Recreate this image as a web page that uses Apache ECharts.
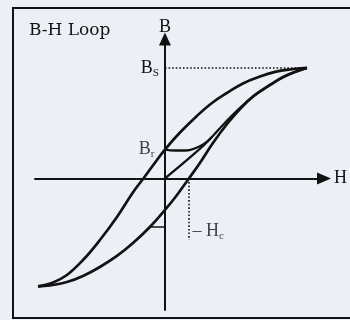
<!DOCTYPE html>
<html>
<head>
<meta charset="utf-8">
<script src="https://cdn.jsdelivr.net/npm/echarts@6/dist/echarts.min.js"></script>
<style>
  html, body { margin: 0; padding: 0; background: #eceff6; }
  #chart { width: 350px; height: 320px; }
</style>
</head>
<body>
<div id="chart"></div>
<script>
// Normalised units: H relative to H_max, B relative to B_s.
const Bs = 1.0;
const Br = 0.262;
const Hc = 0.169;

// Descending branch (from +saturation down to -saturation)
const upperBranch = [
  [1.000, 1.000], [0.880, 0.986], [0.775, 0.964], [0.669, 0.923],
  [0.549, 0.860], [0.437, 0.774], [0.331, 0.683], [0.225, 0.566],
  [0.106, 0.416], [0.000, 0.262], [-0.077, 0.131], [-0.152, 0.000],
  [-0.228, -0.131], [-0.338, -0.348], [-0.458, -0.557], [-0.577, -0.738],
  [-0.690, -0.873], [-0.796, -0.946], [-0.894, -0.977]
];

// Ascending branch (from -saturation back up to +saturation)
const lowerBranch = [
  [-0.894, -0.977], [-0.810, -0.968], [-0.690, -0.937], [-0.577, -0.882],
  [-0.458, -0.801], [-0.338, -0.701], [-0.225, -0.584], [-0.106, -0.439],
  [0.000, -0.285], [0.085, -0.149], [0.169, 0.000], [0.246, 0.140],
  [0.338, 0.321], [0.437, 0.493], [0.535, 0.638], [0.634, 0.756],
  [0.739, 0.846], [0.845, 0.928], [1.000, 1.000]
];

// Initial magnetisation curve from the origin
const initialCurve = [
  [0.000, 0.000], [0.106, 0.113], [0.197, 0.213], [0.268, 0.294],
  [0.331, 0.376], [0.415, 0.493], [0.514, 0.620], [0.613, 0.733],
  [0.718, 0.828], [0.845, 0.923], [1.000, 1.000]
];

// Recoil curve starting at the remanence point
const recoilCurve = [
  [0.000, 0.262], [0.070, 0.253], [0.148, 0.253], [0.218, 0.276],
  [0.275, 0.312], [0.331, 0.376]
];

// Short horizontal marker on the ascending branch
const markerSegment = [[-0.106, -0.439], [0.000, -0.439]];

const HcLineEnd = -0.557;
const HcLabelAt = -0.475;

const ink = '#121212';
const serif = '"Liberation Serif", "Times New Roman", serif';

const curve = (name, data, width) => ({
  name, type: 'line', data, smooth: 0.4, showSymbol: false, silent: true,
  lineStyle: { color: ink, width: width },
  z: 3
});

const chart = echarts.init(document.getElementById('chart'), null, { renderer: 'canvas' });

chart.setOption({
  backgroundColor: '#eceff6',
  animation: false,
  title: {
    text: 'B-H Loop', left: 24, top: 17,
    textStyle: { fontFamily: '"DejaVu Serif", serif', fontSize: 17, fontWeight: 'normal', color: ink }
  },
  graphic: [{
    type: 'rect', silent: true, z: 10,
    shape: { x: 13, y: 8, width: 360, height: 310 },
    style: { fill: 'none', stroke: ink, lineWidth: 2 }
  }],
  grid: { left: 35, right: 26, top: 39, bottom: 10 },
  xAxis: {
    type: 'value', min: -0.915, max: 1.12,
    name: 'H', nameLocation: 'end', nameGap: 10,
    nameTextStyle: { fontFamily: serif, fontSize: 18, color: ink, padding: [3, 0, 0, 0] },
    axisLine: { onZero: true, lineStyle: { color: ink, width: 2 }, symbol: ['none', 'triangle'], symbolSize: [12, 14] },
    axisTick: { show: false }, axisLabel: { show: false }, splitLine: { show: false }
  },
  yAxis: {
    type: 'value', min: -1.19, max: 1.262,
    name: 'B', nameLocation: 'end', nameGap: 3,
    nameTextStyle: { fontFamily: serif, fontSize: 18, color: ink, align: 'center' },
    axisLine: { onZero: true, lineStyle: { color: ink, width: 2 }, symbol: ['none', 'triangle'], symbolSize: [12, 13] },
    axisTick: { show: false }, axisLabel: { show: false }, splitLine: { show: false }
  },
  series: [
    curve('upper', upperBranch, 2.7),
    curve('lower', lowerBranch, 2.7),
    curve('initial', initialCurve, 2.3),
    Object.assign(curve('recoil', recoilCurve, 2.3), {
      markLine: {
        silent: true, symbol: 'none',
        lineStyle: { color: ink, width: 1.6, type: [1.6, 2] },
        label: {
          show: true, color: ink, fontFamily: serif,
          rich: {
            b: { fontSize: 18, fontFamily: serif, color: ink },
            s: { fontSize: 11, fontFamily: serif, color: ink, padding: [10, 0, 0, 0] }
          }
        },
        data: [
          [
            { coord: [0, Bs], label: { position: 'start', distance: 6, formatter: '{b|B}{s|S}' } },
            { coord: [1.0, Bs] }
          ],
          [
            { coord: [Hc, 0], label: { show: false } },
            { coord: [Hc, HcLineEnd] }
          ]
        ]
      }
    }),
    {
      name: 'marker', type: 'line', data: markerSegment, showSymbol: false, silent: true,
      lineStyle: { color: ink, width: 1.6 }
    },
    {
      name: 'labels', type: 'scatter', silent: true, symbolSize: 1,
      itemStyle: { color: 'rgba(0,0,0,0)' },
      data: [
        { value: [0, Br], label: { show: true, position: 'left', distance: 10, formatter: '{b|B}{s|r}' } },
        { value: [Hc, HcLabelAt], label: { show: true, position: 'right', distance: 3, formatter: '{b|– H}{s|c}' } }
      ],
      label: {
        color: ink,
        rich: {
          b: { fontSize: 18, fontFamily: serif, color: ink },
          s: { fontSize: 11, fontFamily: serif, color: ink, padding: [10, 0, 0, 0] }
        }
      }
    }
  ]
});
</script>
</body>
</html>
